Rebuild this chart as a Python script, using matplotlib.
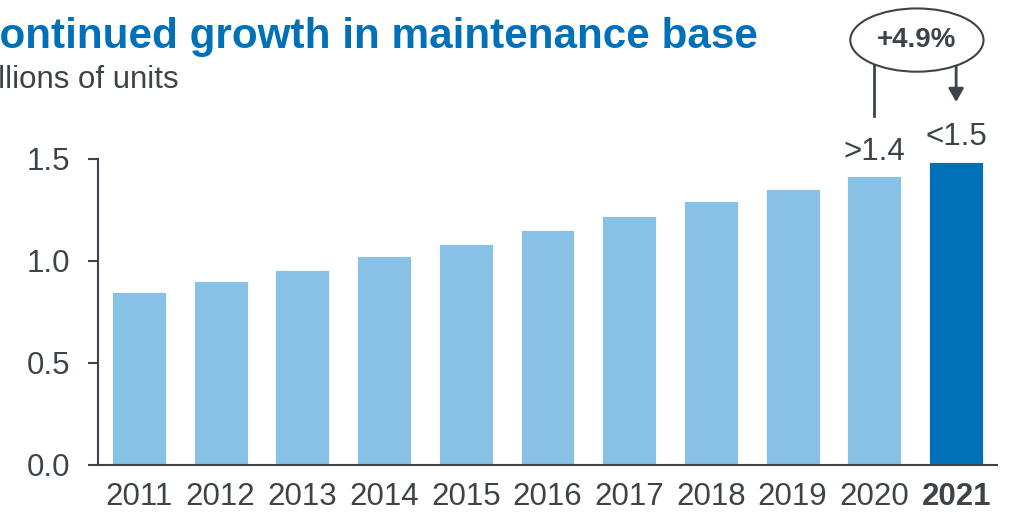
import matplotlib
matplotlib.use('Agg')
import matplotlib.pyplot as plt
from matplotlib.patches import Ellipse

# --- 데이터 ---
years = ['2011', '2012', '2013', '2014', '2015', '2016', '2017', '2018', '2019', '2020', '2021']
units = [0.85, 0.90, 0.955, 1.025, 1.085, 1.15, 1.22, 1.295, 1.355, 1.415, 1.485]
value_labels = {9: '>1.4', 10: '<1.5'}
growth_label = '+4.9%'

title = 'Continued growth in maintenance base'
subtitle = 'Millions of units'

plt.rcParams['font.family'] = ['Liberation Sans', 'DejaVu Sans']

grey = '#3d4449'
light_blue = '#87c1e5'
dark_blue = '#0070b8'

fig = plt.figure(figsize=(10.12, 5.12), dpi=100)
ax = fig.add_axes([98 / 1012, 1 - 465 / 512, 899 / 1012, 306 / 512])

x = list(range(len(years)))
colors = [light_blue] * (len(years) - 1) + [dark_blue]
ax.bar(x, units, width=0.66, color=colors, edgecolor='white', linewidth=0.6, zorder=2)

ax.set_xlim(-0.5, len(years) - 0.5)
ax.set_ylim(0, 1.5)
ax.set_yticks([0, 0.5, 1.0, 1.5])
ax.set_yticklabels(['0.0', '0.5', '1.0', '1.5'])
ax.set_xticks(x)
ax.set_xticklabels(years)
ax.get_xticklabels()[-1].set_fontweight('bold')

ax.tick_params(axis='y', length=7, width=1.5, color=grey, labelcolor=grey, labelsize=22.5, pad=13)
ax.tick_params(axis='x', length=0, labelcolor=grey, labelsize=22.5, pad=12)
for side in ['top', 'right']:
    ax.spines[side].set_visible(False)
for side in ['left', 'bottom']:
    ax.spines[side].set_color(grey)
    ax.spines[side].set_linewidth(1.5)

# 2020, 2021 값 라벨
for i, lab in value_labels.items():
    ax.annotate(lab, (i, units[i]), xytext=(0, 7), textcoords='offset points',
                ha='center', va='bottom', fontsize=22.5, color=grey, annotation_clip=False)

# 성장률 타원 + 화살표
cx, cy = 9.52, 2.083
ax.plot([9, 9], [cy, 1.711], color=grey, lw=2, clip_on=False, zorder=3)
ax.annotate('', xy=(10, 1.779), xytext=(10, cy),
            arrowprops=dict(arrowstyle='-|>,head_length=0.8,head_width=0.45', color=grey, lw=2,
                            shrinkA=0, shrinkB=0),
            annotation_clip=False, zorder=3)
ell = Ellipse((cx, cy), 1.63, 0.31, facecolor='white', edgecolor=grey, lw=1.5,
              clip_on=False, zorder=4)
ax.add_patch(ell)
ax.text(cx, cy, growth_label, ha='center', va='center', fontsize=20, fontweight='bold',
        color=grey, zorder=5, clip_on=False)

fig.text(-0.031, 1 - 48 / 512, title, fontsize=30.4, fontweight='bold', color=dark_blue, va='baseline')
fig.text(-0.035, 1 - 88 / 512, subtitle, fontsize=22.5, color=grey, va='baseline')

fig.savefig('out.png', dpi=100)
